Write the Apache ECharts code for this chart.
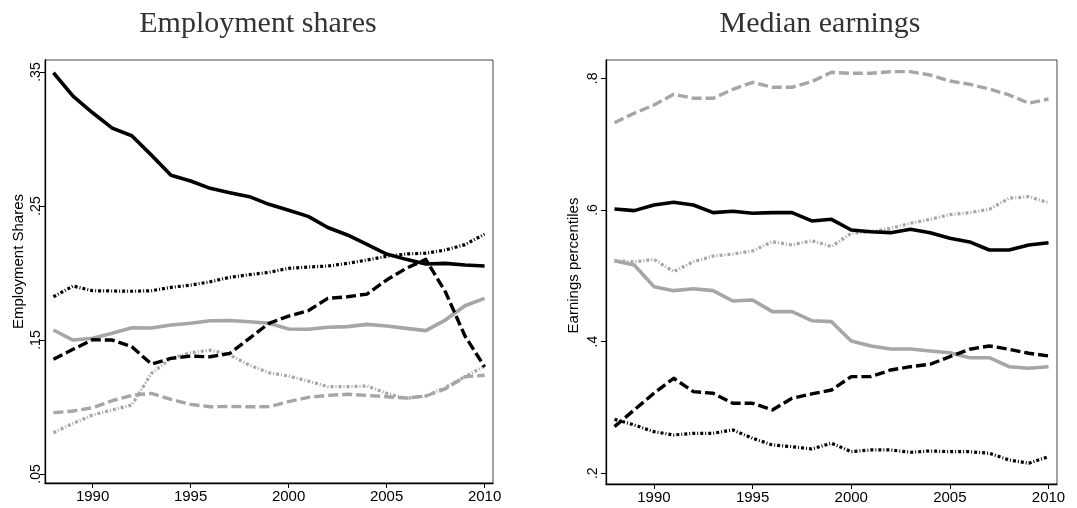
<!DOCTYPE html>
<html>
<head>
<meta charset="utf-8">
<script src="https://cdn.jsdelivr.net/npm/echarts@6/dist/echarts.min.js"></script>
<style>
  html, body { margin: 0; padding: 0; background: #fff; }
  #chart { width: 1077px; height: 508px; }
</style>
</head>
<body>
<div id="chart"></div>
<script>
// years on the x axis
var years = [1988,1989,1990,1991,1992,1993,1994,1995,1996,1997,1998,1999,
             2000,2001,2002,2003,2004,2005,2006,2007,2008,2009,2010];

// left panel: employment shares
var empBlackSolid   = [.3495,.332,.3196,.3082,.3025,.288,.273,.2687,.2632,.260,.257,.2513,.2468,.2423,.234,.2284,.2214,.2142,.2102,.2067,.2072,.206,.2052];
var empBlackDashDot = [.1823,.1903,.1868,.1866,.1864,.1868,.1893,.191,.1935,.1968,.1988,.2005,.2035,.2045,.2052,.2072,.2097,.2125,.2142,.2148,.2172,.2212,.229];
var empBlackDash    = [.1356,.1431,.1502,.150,.145,.1321,.1363,.138,.1375,.140,.1513,.1625,.1679,.1719,.1811,.1823,.1843,.1948,.2035,.2102,.186,.153,.130];
var empGraySolid    = [.1575,.150,.1513,.155,.1592,.159,.1612,.1625,.1644,.1646,.1637,.1625,.1582,.158,.1595,.160,.1617,.1605,.1587,.157,.1649,.1756,.1811];
var empGrayDash     = [.0958,.097,.0995,.1047,.1087,.1102,.1057,.102,.1002,.1004,.1002,.1003,.104,.1072,.1087,.1095,.1087,.1077,.1067,.1082,.1136,.1226,.1237];
var empGrayDashDot  = [.0808,.0878,.094,.0978,.1015,.1251,.1363,.1405,.1425,.1388,.1313,.1256,.1231,.1194,.1152,.1152,.1157,.1102,.1065,.1082,.1147,.1226,.1306];

// right panel: median earnings (percentiles)
var earnGrayDash     = [.7326,.7469,.7595,.7757,.7696,.7696,.7833,.7939,.7864,.7864,.7949,.8091,.8076,.8076,.8101,.8101,.805,.7959,.7909,.7838,.7747,.7621,.7686];
var earnBlackSolid   = [.6015,.599,.6076,.6117,.6076,.5959,.598,.595,.5959,.5959,.5833,.5858,.5696,.567,.5655,.5706,.5655,.557,.5514,.5392,.5392,.5468,.5503];
var earnGrayDashDot  = [.523,.521,.525,.5063,.5214,.530,.5331,.5377,.5518,.5468,.5534,.5443,.5646,.567,.5722,.5798,.5858,.5929,.5959,.601,.6177,.6202,.6111];
var earnGraySolid    = [.523,.5164,.4835,.4774,.4804,.4774,.4617,.4632,.4455,.4455,.4318,.4303,.401,.3934,.3888,.3888,.3858,.3832,.3756,.3756,.3619,.3595,.3619];
var earnBlackDash    = [.2708,.2962,.3215,.3443,.324,.3215,.3063,.3063,.2962,.3139,.3205,.3265,.3468,.3468,.3569,.3619,.3656,.3772,.3884,.3934,.3884,.3823,.3782];
var earnBlackDashDot = [.282,.2734,.2632,.2582,.2607,.2607,.2658,.2532,.243,.2404,.2369,.2456,.2328,.2354,.2354,.2319,.2339,.2328,.2328,.2304,.2202,.2152,.2253];

// tick labels
var xTicks = [1990, 1995, 2000, 2005, 2010];
var empTicks = [.05, .15, .25, .35];
var earnTicks = [.2, .4, .6, .8];

var GRAY = '#a6a6a6';
var SANS = "'Liberation Sans', Arial, sans-serif";
var SERIF = "'Liberation Serif', serif";

function pairs(vals) {
  var out = [];
  for (var i = 0; i < years.length; i++) out.push([years[i], vals[i]]);
  return out;
}

var styles = {
  solid:   { type: 'solid', width: 3.6 },
  dash:    { type: [10, 4], width: 3.4 },
  dashdot: { type: [3, 2, 1, 2], width: 3.2 }
};

function line(idx, vals, color, kind) {
  return {
    type: 'line',
    xAxisIndex: idx, yAxisIndex: idx,
    data: pairs(vals),
    showSymbol: false,
    symbol: 'none',
    silent: true,
    lineStyle: { color: color, width: styles[kind].width, type: styles[kind].type, cap: 'butt', join: 'round' }
  };
}

function xAxis(idx) {
  return {
    type: 'value', gridIndex: idx,
    min: 1987.57, max: 2010.43,
    axisLine: { show: true, onZero: false, lineStyle: { color: '#000', width: 1.3 } },
    axisTick: { show: true, length: 5, customValues: xTicks, lineStyle: { color: '#000' } },
    axisLabel: {
      customValues: xTicks, margin: 6, color: '#000', fontFamily: SANS, fontSize: 15,
      formatter: function (v) { return String(v); }
    },
    splitLine: { show: false }
  };
}

function yAxis(idx, name, lo, hi, ticks, labelMargin, nameGap, nameShift) {
  return {
    type: 'value', gridIndex: idx,
    min: lo, max: hi,
    name: name, nameLocation: 'middle', nameGap: nameGap,
    nameTextStyle: { color: '#000', fontFamily: SANS, fontSize: 15, padding: [0, 0, 0, nameShift] },
    axisLine: { show: true, onZero: false, lineStyle: { color: '#000', width: 1.3 } },
    axisTick: { show: true, length: 5, customValues: ticks, lineStyle: { color: '#000' } },
    axisLabel: {
      customValues: ticks, rotate: 90, margin: labelMargin, color: '#000',
      fontFamily: SANS, fontSize: 14,
      formatter: function (v) { return String(v).replace(/^0/, ''); }
    },
    splitLine: { show: false }
  };
}

var chart = echarts.init(document.getElementById('chart'));
chart.setOption({
  animation: false,
  backgroundColor: '#fff',
  title: [
    { text: 'Employment shares', left: 258, top: 9, textAlign: 'center', padding: 0,
      textStyle: { fontFamily: SERIF, fontWeight: 'normal', fontSize: 30, color: '#333' } },
    { text: 'Median earnings', left: 820, top: 9, textAlign: 'center', padding: 0,
      textStyle: { fontFamily: SERIF, fontWeight: 'normal', fontSize: 30, color: '#333' } }
  ],
  grid: [
    { left: 45, top: 60, width: 448, height: 423, show: true, borderColor: '#444', borderWidth: 1, backgroundColor: 'transparent' },
    { left: 606, top: 60, width: 451, height: 424, show: true, borderColor: '#444', borderWidth: 1, backgroundColor: 'transparent' }
  ],
  xAxis: [xAxis(0), xAxis(1)],
  yAxis: [
    yAxis(0, 'Employment Shares', 0.0433, 0.359, empTicks, 2, 19, 20),
    yAxis(1, 'Earnings percentiles', 0.1837, 0.8278, earnTicks, 6, 25, 13)
  ],
  series: [
    line(0, empGrayDash, GRAY, 'dash'),
    line(0, empGrayDashDot, GRAY, 'dashdot'),
    line(0, empGraySolid, GRAY, 'solid'),
    line(0, empBlackDashDot, '#000', 'dashdot'),
    line(0, empBlackDash, '#000', 'dash'),
    line(0, empBlackSolid, '#000', 'solid'),
    line(1, earnGrayDash, GRAY, 'dash'),
    line(1, earnGrayDashDot, GRAY, 'dashdot'),
    line(1, earnGraySolid, GRAY, 'solid'),
    line(1, earnBlackDashDot, '#000', 'dashdot'),
    line(1, earnBlackDash, '#000', 'dash'),
    line(1, earnBlackSolid, '#000', 'solid')
  ]
});
</script>
</body>
</html>
